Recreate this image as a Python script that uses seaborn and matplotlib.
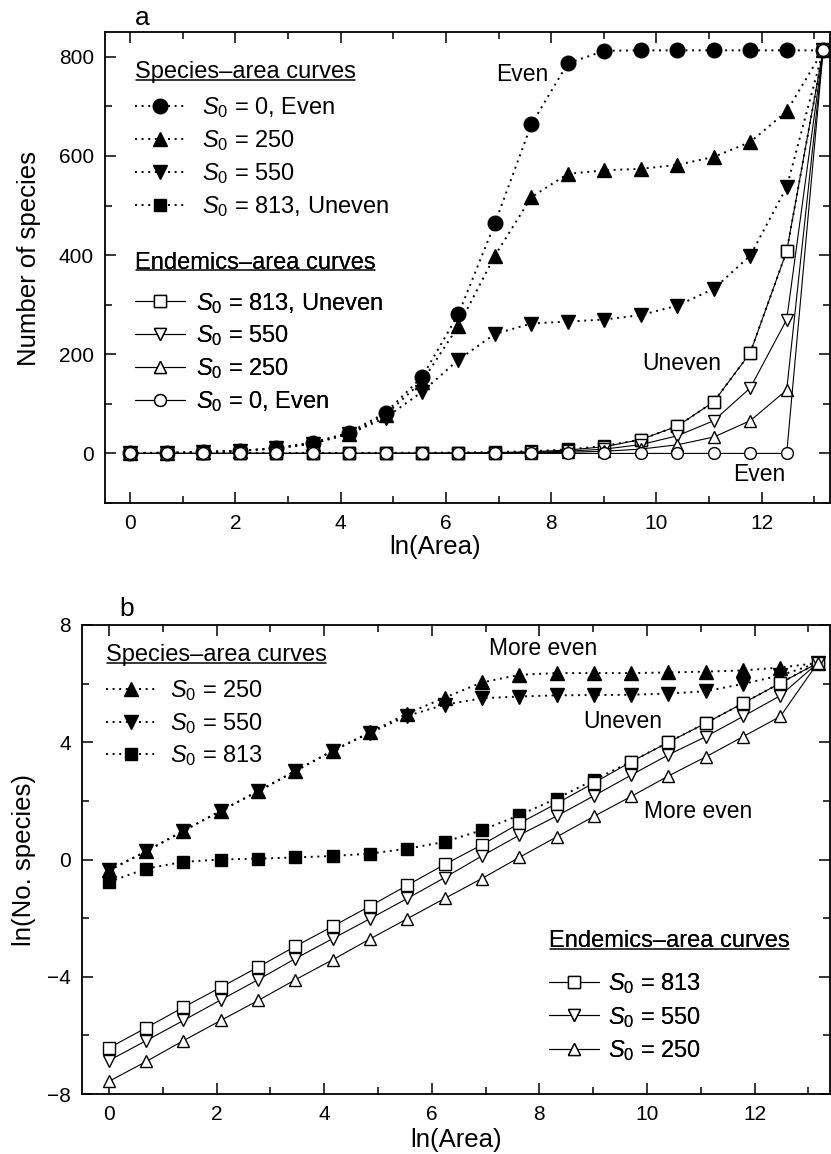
import matplotlib
matplotlib.use("Agg")
import matplotlib.pyplot as plt
import seaborn as sns
import pandas as pd
from matplotlib.lines import Line2D
from matplotlib.ticker import MultipleLocator

# ---------------- data ----------------
ln_area = [0.0, 0.693, 1.386, 2.079, 2.773, 3.466, 4.159, 4.852, 5.545, 6.238,
           6.931, 7.625, 8.318, 9.011, 9.704, 10.397, 11.090, 11.784, 12.477, 13.170]

# Panel a: number of species
a_sp_s0_0 = [0.7, 1.3, 2.7, 5.3, 11, 22, 42, 82, 154, 281, 464, 664, 787, 812, 813, 813, 813, 813, 813, 813]
a_sp_s0_250 = [0.7, 1.3, 2.7, 5.2, 10, 20, 40, 78, 145, 257, 399, 517, 564, 571, 574, 582, 598, 628, 690, 813]
a_sp_s0_550 = [0.7, 1.3, 2.7, 5.2, 10, 20, 39, 72, 124, 189, 241, 262, 266, 270, 279, 298, 332, 399, 537, 813]
a_sp_s0_813 = [0.46, 0.73, 0.92, 1.0, 1.03, 1.07, 1.13, 1.22, 1.43, 1.8, 2.7, 4.5, 8.0, 15, 28, 55, 104, 203, 408, 813]
a_en_s0_813 = [0.002, 0.003, 0.006, 0.013, 0.025, 0.05, 0.1, 0.2, 0.41, 0.83, 1.6, 3.4, 6.8, 13.5, 28, 55, 104, 203, 408, 813]
a_en_s0_550 = [0.001, 0.002, 0.004, 0.008, 0.017, 0.034, 0.067, 0.13, 0.26, 0.54, 1.1, 2.3, 4.4, 8.7, 17.8, 35.5, 66, 132, 270, 813]
a_en_s0_250 = [0.0005, 0.001, 0.002, 0.004, 0.008, 0.017, 0.033, 0.066, 0.13, 0.26, 0.52, 1.07, 2.2, 4.4, 8.7, 17.4, 33, 66, 128, 813]
a_en_s0_0 = [0, 0, 0, 0, 0, 0, 0, 0, 0, 0, 0, 0, 0, 0, 0, 0, 0, 0, 0, 813]

# Panel b: ln(number of species)
b_sp_s0_250 = [-0.37, 0.28, 0.98, 1.66, 2.33, 3.02, 3.71, 4.34, 4.98, 5.52, 6.04, 6.30, 6.36, 6.36, 6.36, 6.38, 6.41, 6.45, 6.55, 6.70]
b_sp_s0_550 = [-0.37, 0.28, 0.98, 1.66, 2.33, 3.02, 3.71, 4.32, 4.90, 5.28, 5.50, 5.56, 5.60, 5.61, 5.62, 5.66, 5.74, 5.99, 6.28, 6.70]
b_sp_s0_813 = [-0.77, -0.31, -0.08, 0.0, 0.03, 0.07, 0.12, 0.20, 0.37, 0.60, 1.00, 1.51, 2.08, 2.71, 3.34, 4.00, 4.65, 5.33, 6.02, 6.70]
b_en_s0_813 = [-6.43, -5.74, -5.04, -4.36, -3.67, -2.96, -2.28, -1.59, -0.88, -0.17, 0.50, 1.23, 1.91, 2.61, 3.33, 4.00, 4.65, 5.33, 6.02, 6.70]
b_en_s0_550 = [-6.86, -6.18, -5.49, -4.79, -4.10, -3.38, -2.70, -2.02, -1.33, -0.62, 0.12, 0.83, 1.48, 2.17, 2.88, 3.57, 4.19, 4.88, 5.59, 6.70]
b_en_s0_250 = [-7.57, -6.89, -6.18, -5.49, -4.81, -4.10, -3.42, -2.71, -2.02, -1.33, -0.65, 0.07, 0.77, 1.47, 2.15, 2.85, 3.50, 4.19, 4.88, 6.70]

heading_sp = "Species\u2013area curves"
heading_en = "Endemics\u2013area curves"
lab_a_sp = ["$S_0$ = 0, Even", "$S_0$ = 250", "$S_0$ = 550", "$S_0$ = 813, Uneven"]
lab_a_en = ["$S_0$ = 813, Uneven", "$S_0$ = 550", "$S_0$ = 250", "$S_0$ = 0, Even"]
lab_b_sp = ["$S_0$ = 250", "$S_0$ = 550", "$S_0$ = 813"]
lab_b_en = ["$S_0$ = 813", "$S_0$ = 550", "$S_0$ = 250"]

# ---------------- style ----------------
sns.set_style("ticks")
plt.rcParams["font.family"] = ["Liberation Sans", "DejaVu Sans"]
plt.rcParams["mathtext.fontset"] = "custom"
plt.rcParams["mathtext.rm"] = "Liberation Sans"
plt.rcParams["mathtext.it"] = "Liberation Sans:italic"
plt.rcParams["axes.unicode_minus"] = True
for k in ("text.color", "axes.labelcolor", "xtick.color", "ytick.color", "axes.edgecolor"):
    plt.rcParams[k] = "black"

W, H = 831, 1154
fig = plt.figure(figsize=(W / 100, H / 100), dpi=100)
ax_a = fig.add_axes([105 / W, 1 - 503 / H, 725 / W, 471 / H])
ax_b = fig.add_axes([82 / W, 1 - 1094 / H, 748 / W, 469 / H])

DOT = (0, (1, 2.4))


def series(ax, y, marker, filled, ms, dotted):
    sns.lineplot(x=ln_area, y=y, ax=ax, color="black", marker=marker,
                 markersize=ms, markerfacecolor="black" if filled else "white",
                 markeredgecolor="black", markeredgewidth=1.0,
                 linestyle=DOT if dotted else "-",
                 linewidth=1.4 if dotted else 0.8,
                 legend=False, sort=False, errorbar=None)
    return ax.lines[-1]


# Panel a
h_a_sp = [series(ax_a, a_sp_s0_0, "o", True, 10.5, True),
          series(ax_a, a_sp_s0_250, "^", True, 10.5, True),
          series(ax_a, a_sp_s0_550, "v", True, 10.5, True),
          series(ax_a, a_sp_s0_813, "s", True, 8, True)]
h_a_en = [series(ax_a, a_en_s0_813, "s", False, 8, False),
          series(ax_a, a_en_s0_550, "v", False, 9, False),
          series(ax_a, a_en_s0_250, "^", False, 9, False),
          series(ax_a, a_en_s0_0, "o", False, 8.5, False)]

# Panel b
h_b_sp = [series(ax_b, b_sp_s0_250, "^", True, 10, True),
          series(ax_b, b_sp_s0_550, "v", True, 10, True),
          series(ax_b, b_sp_s0_813, "s", True, 8, True)]
h_b_en = [series(ax_b, b_en_s0_813, "s", False, 8, False),
          series(ax_b, b_en_s0_550, "v", False, 9, False),
          series(ax_b, b_en_s0_250, "^", False, 9, False)]

TICK_FS = 15
LAB_FS = 18.5
for ax in (ax_a, ax_b):
    ax.xaxis.set_major_locator(MultipleLocator(2))
    ax.xaxis.set_minor_locator(MultipleLocator(1))
    ax.tick_params(which="both", direction="in", top=True, right=True,
                   labelsize=TICK_FS, pad=8, width=1.1, color="black")
    ax.tick_params(which="major", length=8)
    ax.tick_params(which="minor", length=5)
    for s in ax.spines.values():
        s.set_linewidth(1.3)
        s.set_color("black")
    ax.set_xlabel("ln(Area)", fontsize=LAB_FS)

ax_a.set_xlim(-0.48, 13.3)
ax_a.set_ylim(-100, 850)
ax_a.yaxis.set_major_locator(MultipleLocator(200))
ax_a.yaxis.set_minor_locator(MultipleLocator(100))
ax_a.set_ylabel("Number of species", fontsize=LAB_FS)
ax_a.xaxis.set_label_coords(0.455, -0.068)
ax_a.yaxis.set_label_coords(-0.088, 0.52)

ax_b.set_xlim(-0.5, 13.4)
ax_b.set_ylim(-8, 8)
ax_b.yaxis.set_major_locator(MultipleLocator(4))
ax_b.yaxis.set_minor_locator(MultipleLocator(2))
ax_b.set_ylabel("ln(No. species)", fontsize=LAB_FS)
ax_b.xaxis.set_label_coords(0.5, -0.072)
ax_b.yaxis.set_label_coords(-0.062, 0.5)

# annotations
ANN = 16.5
ax_a.text(6.96, 765, "Even", fontsize=ANN, va="center", ha="left")
ax_a.text(9.74, 181, "Uneven", fontsize=ANN, va="center", ha="left")
ax_a.text(11.45, -42, "Even", fontsize=ANN, va="center", ha="left")
ax_b.text(7.07, 7.21, "More even", fontsize=ANN, va="center", ha="left")
ax_b.text(8.82, 4.70, "Uneven", fontsize=ANN, va="center", ha="left")
ax_b.text(9.95, 1.63, "More even", fontsize=ANN, va="center", ha="left")

fig.text(142 / W, 1 - 18 / H, "a", fontsize=19, ha="center", va="center")
fig.text(127 / W, 1 - 609 / H, "b", fontsize=19, ha="center", va="center")

# legends
LEG_FS = 17
legends = []


def make_legend(ax, handles, labels, title, x_px, y_px, textpad, sep_px, spacing):
    leg = ax.legend(handles, labels, title=title, loc="upper left",
                    bbox_to_anchor=(x_px / W, 1 - y_px / H),
                    bbox_transform=fig.transFigure, frameon=False,
                    fontsize=LEG_FS, title_fontsize=LEG_FS, borderpad=0,
                    borderaxespad=0, handlelength=2.1, handletextpad=textpad,
                    labelspacing=spacing, alignment="left", numpoints=1)
    leg._legend_box.sep = sep_px
    ax.add_artist(leg)
    legends.append(leg)
    return leg


make_legend(ax_a, h_a_sp, lab_a_sp, heading_sp, 135, 61, 0.75, 9, 0.34)
make_legend(ax_a, h_a_en, lab_a_en, heading_en, 135, 252, 0.5, 12, 0.34)
make_legend(ax_b, h_b_sp, lab_b_sp, heading_sp, 106, 644, 0.6, 9, 0.32)
make_legend(ax_b, h_b_en, lab_b_en, heading_en, 549, 930, 0.4, 14, 0.35)

# underline the headings
fig.canvas.draw()
r = fig.canvas.get_renderer()
inv = fig.transFigure.inverted()
for leg in legends:
    bb = leg.get_title().get_window_extent(r)
    yline = bb.y0 + 3.5
    (x0, y0), (x1, _) = inv.transform([(bb.x0 + 1, yline), (bb.x1 - 1, yline)])
    fig.add_artist(Line2D([x0, x1], [y0, y0], transform=fig.transFigure,
                          color="black", linewidth=1.1))

fig.savefig("out.png", dpi=100)
